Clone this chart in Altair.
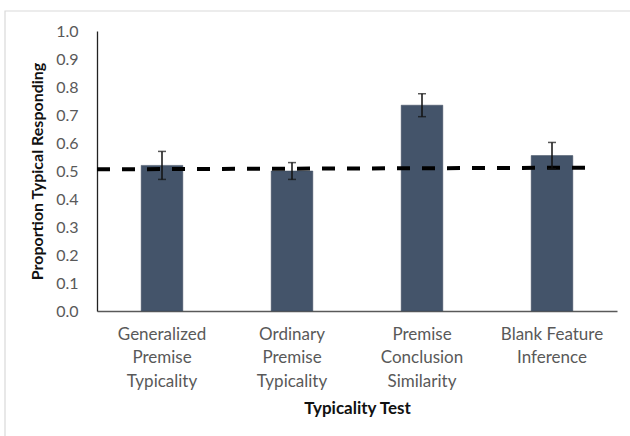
import altair as alt
import pandas as pd

# Typicality tests, mean proportion of typical responses and error half-widths
categories = [
    "Generalized\nPremise\nTypicality",
    "Ordinary\nPremise\nTypicality",
    "Premise\nConclusion\nSimilarity",
    "Blank Feature\nInference",
]
means = [0.52, 0.50, 0.735, 0.555]
errors = [0.05, 0.03, 0.041, 0.047]

# Chance-level reference line (drawn slightly tilted, as in the original figure)
chance_left = 0.506
chance_right = 0.512

y_ticks = [round(i / 10, 1) for i in range(11)]

df = pd.DataFrame({"test": categories, "mean": means, "err": errors})
df["lo"] = df["mean"] - df["err"]
df["hi"] = df["mean"] + df["err"]

FONT = "Lato"
BAR = "#44546A"

x_scale = alt.Scale(paddingInner=0.68, paddingOuter=0.34)
y_scale = alt.Scale(domain=[0, 1], nice=False)

x_axis = alt.Axis(
    labelAngle=0,
    labelExpr="split(datum.label, '\\n')",
    labelLineHeight=23.5,
    labelFontSize=17,
    labelColor="#595959",
    labelPadding=15,
    labelBaseline="top",
    ticks=False,
    domainColor="#595959",
    domainWidth=1.3,
    titleFontSize=17,
    titleFontWeight="bold",
    titleColor="#111111",
    titlePadding=11,
)

y_axis = alt.Axis(
    values=y_ticks,
    format=".1f",
    grid=False,
    ticks=False,
    labelOverlap=False,
    labelFontSize=16,
    labelColor="#595959",
    labelPadding=19,
    domainColor="#222222",
    domainWidth=1.3,
    titleFontSize=16,
    titleFontWeight="bold",
    titleColor="#111111",
    titlePadding=10,
)

X_TITLE = "Typicality Test"
Y_TITLE = "Proportion Typical Responding"


def xe():
    return alt.X("test:N", sort=categories, title=X_TITLE, scale=x_scale, axis=x_axis)


def ye(field):
    return alt.Y(field, scale=y_scale, title=Y_TITLE, axis=y_axis)


bars = alt.Chart(df).mark_bar(color=BAR, stroke="#3a485c", strokeWidth=0.5).encode(
    x=xe(),
    y=ye("mean:Q"),
)

err_rule = alt.Chart(df).mark_rule(color="#111111", strokeWidth=1.5).encode(
    x=xe(),
    y=ye("lo:Q"),
    y2="hi:Q",
)
cap_hi = alt.Chart(df).mark_tick(color="#111111", size=8, thickness=1.5).encode(
    x=xe(),
    y=ye("hi:Q"),
)
cap_lo = alt.Chart(df).mark_tick(color="#111111", size=8, thickness=1.5).encode(
    x=xe(),
    y=ye("lo:Q"),
)

chance = alt.Chart(pd.DataFrame({"a": [chance_left], "b": [chance_right]})).mark_rule(
    color="#000000", strokeWidth=4, strokeDash=[13, 12]
).encode(
    x=alt.value(0),
    x2=alt.value(495),
    y=ye("a:Q"),
    y2="b:Q",
)

# Light frame around the whole figure
frame = alt.Chart(pd.DataFrame({"k": [0]})).mark_rect(
    fill=None, stroke="#d9d9d9", strokeWidth=1.2, clip=False
).encode(
    x=alt.value(-92),
    x2=alt.value(540),
    y=alt.value(-20),
    y2=alt.value(440),
)

chart = (
    alt.layer(frame, bars, chance, err_rule, cap_hi, cap_lo)
    .properties(
        width=520,
        height=280,
        autosize=alt.AutoSizeParams(type="none"),
        padding={"left": 97, "top": 31, "right": 13, "bottom": 125},
        background="white",
    )
    .configure(font=FONT, view=alt.ViewConfig(stroke="transparent", strokeWidth=0))
)

chart.save("out.html", embed_options={"renderer": "svg", "actions": False})
